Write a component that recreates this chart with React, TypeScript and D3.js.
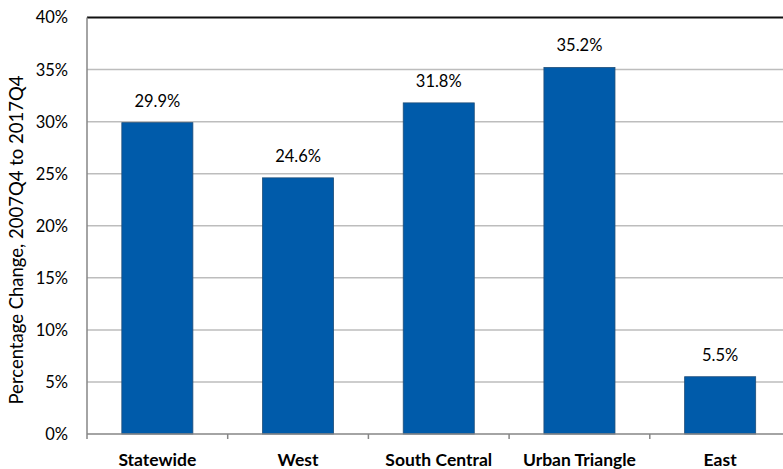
import React from "react";
import * as d3 from "d3";

const categories = ["Statewide", "West", "South Central", "Urban Triangle", "East"];
const values = [29.9, 24.6, 31.8, 35.2, 5.5];
const yTicks = [0, 5, 10, 15, 20, 25, 30, 35, 40];
const yLabel = "Percentage Change, 2007Q4 to 2017Q4";

const W = 783;
const H = 469;
const FONT = "Lato, 'Open Sans', sans-serif";

export default function App() {
  const left = 87;
  const bandW = 140.7;
  const x = d3
    .scaleBand<string>()
    .domain(categories)
    .range([left, left + bandW * categories.length])
    .paddingInner(0)
    .paddingOuter(0);
  const y = d3.scaleLinear().domain([0, 40]).range([434, 17.5]);
  const barW = x.bandwidth() * 0.505;

  return (
    <svg width={W} height={H} style={{ position: "absolute", left: 0, top: 0, display: "block" }}>
      <rect width={W} height={H} fill="#fff" />
      {yTicks.map((t) => (
        <g key={t}>
          {t > 0 && t < 40 && (
            <line x1={left} x2={W} y1={y(t)} y2={y(t)} stroke="#BDBDBD" strokeWidth={1.5} />
          )}
          <text x={68} y={y(t)} dy="0.36em" textAnchor="end" fontFamily={FONT} fontSize={16.5} fill="#000">
            {t}%
          </text>
        </g>
      ))}
      <line x1={left} x2={W} y1={y(40)} y2={y(40)} stroke="#111" strokeWidth={2} />
      {categories.map((c, i) => {
        const cx = (x(c) as number) + x.bandwidth() / 2;
        return (
          <g key={c}>
            <rect
              x={cx - barW / 2}
              y={y(values[i])}
              width={barW}
              height={y(0) - y(values[i])}
              fill="#005BAA"
              stroke="#1F4E79"
              strokeWidth={0.8}
            />
            <text x={cx} y={y(values[i]) - 16} textAnchor="middle" fontFamily={FONT} fontSize={16.5} fill="#000">
              {values[i].toFixed(1)}%
            </text>
            <text x={cx} y={466} textAnchor="middle" fontFamily={FONT} fontSize={17.5} fontWeight="bold" fill="#000">
              {c}
            </text>
          </g>
        );
      })}
      <line x1={left} x2={W} y1={y(0)} y2={y(0)} stroke="#868686" strokeWidth={1.5} />
      <line x1={left} x2={left} y1={y(40)} y2={y(0) + 5} stroke="#868686" strokeWidth={1.5} />
      {categories.map((c, i) =>
        i > 0 ? (
          <line key={"t" + c} x1={x(c) as number} x2={x(c) as number} y1={y(0)} y2={y(0) + 5} stroke="#868686" strokeWidth={1.5} />
        ) : null
      )}
      <text
        transform={`translate(23, 240) rotate(-90)`}
        textAnchor="middle"
        fontFamily={FONT}
        fontSize={18.5}
        fill="#000"
      >
        {yLabel}
      </text>
    </svg>
  );
}
